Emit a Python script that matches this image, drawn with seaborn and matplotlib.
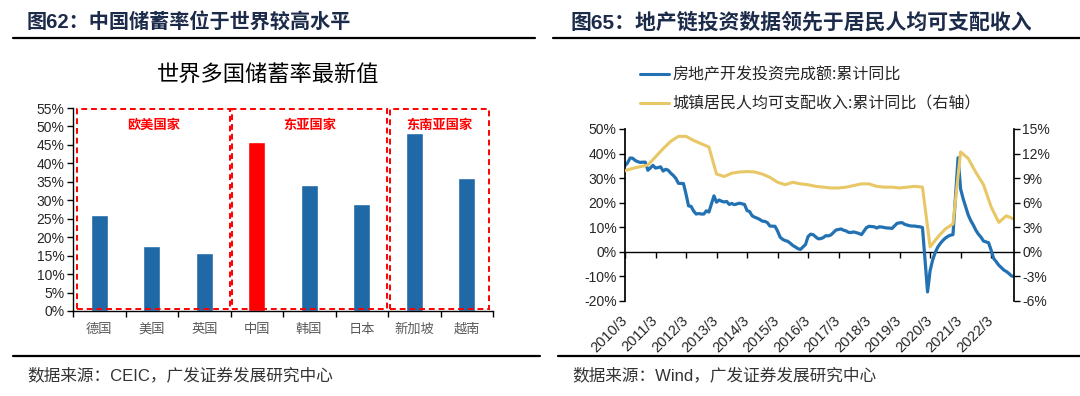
import numpy as np
import pandas as pd
import matplotlib
matplotlib.use('Agg')
import matplotlib.pyplot as plt
import seaborn as sns
from matplotlib.lines import Line2D
from matplotlib.patches import Rectangle
from matplotlib.ticker import FuncFormatter

##### data #####
countries = ['德国', '美国', '英国', '中国', '韩国', '日本', '新加坡', '越南']
saving_rate = [26.0, 17.7, 15.6, 45.8, 34.2, 28.9, 48.3, 36.1]
region = ['欧美国家', '欧美国家', '欧美国家', '东亚国家', '东亚国家', '东亚国家', '东南亚国家', '东南亚国家']

# 房地产开发投资完成额:累计同比 (monthly, Jan merged into Feb), from 2010/3
inv_yoy = [35.1, 36.2, 38.2, 38.1, 37.2, 36.7, 36.4, 36.5, 36.5, 33.2,
           35.2, 34.1, 34.3, 34.6, 32.9, 33.6, 33.2, 32.0, 31.1, 29.9, 27.9,
           27.8, 23.5, 18.7, 18.5, 16.6, 15.4, 15.6, 15.4, 15.4, 16.7, 16.2,
           22.8, 20.2, 21.1, 20.6, 20.3, 20.5, 19.3, 19.7, 19.2, 19.5, 19.8,
           19.3, 16.8, 16.4, 14.7, 14.1, 13.7, 13.2, 12.5, 12.4, 11.9, 10.5,
           10.4, 8.5, 6.0, 5.1, 4.6, 4.3, 3.5, 2.6, 2.0, 1.3, 1.0,
           3.0, 6.2, 7.2, 7.0, 6.1, 5.3, 5.4, 5.8, 6.6, 6.5, 6.9,
           8.9, 9.1, 9.3, 8.8, 8.5, 7.9, 7.9, 8.1, 7.8, 7.5, 7.0,
           9.9, 10.4, 10.3, 10.2, 9.7, 10.2, 10.1, 9.9, 9.7, 9.7, 9.5,
           11.6, 11.8, 11.9, 11.2, 10.9, 10.6, 10.5, 10.5, 10.3, 10.2, 9.9,
           -16.3, -7.7, -3.3, -0.3, 1.9, 3.4, 4.6, 5.6, 6.3, 6.8, 7.0,
           38.3, 25.6, 21.6, 18.3, 15.0, 12.7, 10.9, 8.8, 7.2, 6.0, 4.4,
           3.7, 0.7, -2.7, -4.0, -5.4, -6.4, -7.4, -8.0, -8.8, -9.8, -10.0]
inv_months = [(2010, m) for m in range(3, 13)] + [(y, m) for y in range(2011, 2023) for m in range(2, 13)]

# 城镇居民人均可支配收入:累计同比 (quarterly), from 2010/3
inc_yoy = [9.9, 10.2, 10.4, 10.6,
           11.6, 12.6, 13.5, 14.1,
           14.1, 13.6, 13.2, 12.8,
           9.5, 9.2, 9.6, 9.75,
           9.8, 9.75, 9.5, 9.1,
           8.5, 8.2, 8.5, 8.3,
           8.2, 8.0, 7.9, 7.8,
           7.8, 7.9, 8.1, 8.3,
           8.3, 8.0, 7.9, 7.9,
           7.8, 7.9, 8.0, 7.9,
           0.6, 1.8, 2.8, 3.4,
           12.2, 11.4, 9.7, 8.2,
           5.5, 3.6, 4.4, 4.0]
inc_months = [(y, m) for y in range(2010, 2023) for m in (3, 6, 9, 12)]

year_labels = [f'{y}/3' for y in range(2010, 2023)]

##### style #####
sns.set_theme(style='white')
plt.rcParams['font.family'] = ['Liberation Sans', 'Noto Sans CJK SC']
plt.rcParams['axes.unicode_minus'] = False

W, H = 1080, 396
fig = plt.figure(figsize=(W / 100, H / 100), dpi=100)


def fx(px):
    return px / W


def fy(py):
    return 1 - py / H


title_col = '#1c2b4a'
bar_blue = '#1f69a6'
line_blue = '#2271b3'
line_yellow = '#e8c766'
tick_col = '#262626'

##### left panel #####
fig.text(fx(27), fy(22), '图62：中国储蓄率位于世界较高水平', fontsize=14.5, weight='bold',
         color=title_col, va='center')
fig.add_artist(Line2D([fx(13), fx(535)], [fy(38), fy(38)], color='black', lw=1.6))
fig.text(fx(268), fy(75), '世界多国储蓄率最新值', fontsize=16, ha='center', va='center', color='black')

ax1 = fig.add_axes([fx(73), fy(311), fx(493) - fx(73), fy(108) - fy(311)])
df_bar = pd.DataFrame({'国家': countries, '储蓄率': saving_rate})
bar_cols = ['#ff0000' if c == '中国' else bar_blue for c in countries]
sns.barplot(data=df_bar, x='国家', y='储蓄率', hue='国家', palette=bar_cols, legend=False,
            width=0.32, ax=ax1, saturation=1)
ax1.set_xlim(-0.5, len(countries) - 0.5)
ax1.set_ylim(0, 55)
ax1.set_yticks(np.arange(0, 56, 5))
ax1.yaxis.set_major_formatter(FuncFormatter(lambda v, p: f'{v:.0f}%'))
ax1.set_xlabel('')
ax1.set_ylabel('')
for s in ['top', 'right']:
    ax1.spines[s].set_visible(False)
for s in ['left', 'bottom']:
    ax1.spines[s].set_color('black')
    ax1.spines[s].set_linewidth(1.0)
ax1.set_xticks(np.arange(-0.5, len(countries), 1.0), minor=True)
ax1.tick_params(axis='x', which='major', length=0, pad=9, labelsize=9.5, labelcolor='#595959')
ax1.tick_params(axis='x', which='minor', length=4, width=1, direction='out', color='black', bottom=True)
ax1.tick_params(axis='y', length=4, width=1, direction='out', color='black', left=True,
                labelsize=10, labelcolor=tick_col, pad=2)

# dashed region boxes
groups = list(dict.fromkeys(region))
for gi, g in enumerate(groups):
    idx = [i for i, r in enumerate(region) if r == g]
    x0 = idx[0] - 0.5 + (0.08 if gi == 0 else 0.03)
    x1 = idx[-1] + 0.5 - (0.08 if gi == len(groups) - 1 else 0.01)
    ax1.add_patch(Rectangle((x0, 0.5), x1 - x0, 54.3, fill=False, edgecolor='#ff0000',
                            lw=1.4, linestyle=(0, (3, 2)), zorder=3, clip_on=False))
    ax1.text((x0 + x1) / 2, 50.3, g, color='#ff0000', fontsize=9.5, weight='bold',
             ha='center', va='center')

fig.add_artist(Line2D([fx(13), fx(540)], [fy(356), fy(356)], color='black', lw=1.6))
fig.text(fx(27), fy(375), '数据来源：CEIC，广发证券发展研究中心', fontsize=12, color='#333333', va='center')

##### right panel #####
fig.text(fx(570), fy(22), '图65：地产链投资数据领先于居民人均可支配收入', fontsize=15, weight='bold',
         color=title_col, va='center')
fig.add_artist(Line2D([fx(553), fx(1080)], [fy(38), fy(38)], color='black', lw=1.6))

ax2 = fig.add_axes([fx(625), fy(301), fx(1014) - fx(625), fy(129) - fy(301)])
inv_df = pd.DataFrame({'t': [(y - 2010) * 12 + m - 3 for y, m in inv_months], 'yoy': inv_yoy})
inc_df = pd.DataFrame({'t': [(y - 2010) * 12 + m - 3 for y, m in inc_months], 'yoy': inc_yoy})

sns.lineplot(data=inv_df, x='t', y='yoy', ax=ax2, color=line_blue, lw=2.3)
ax3 = ax2.twinx()
sns.lineplot(data=inc_df, x='t', y='yoy', ax=ax3, color=line_yellow, lw=2.2)

t_end = inv_df['t'].max()
ax2.set_xlim(0, t_end)
ax2.set_ylim(-20, 50)
ax3.set_ylim(-6, 15)
ax2.set_yticks(np.arange(-20, 51, 10))
ax3.set_yticks(np.arange(-6, 16, 3))
pct = FuncFormatter(lambda v, p: f'{v:.0f}%')
ax2.yaxis.set_major_formatter(pct)
ax3.yaxis.set_major_formatter(pct)
for a in (ax2, ax3):
    a.set_xlabel('')
    a.set_ylabel('')
    for s in a.spines.values():
        s.set_visible(False)
ax2.spines['left'].set_visible(True)
ax2.spines['left'].set_color('black')
ax3.spines['right'].set_visible(True)
ax3.spines['right'].set_color('black')
ax2.tick_params(axis='y', length=4, width=1, direction='out', color='black', left=True,
                labelsize=10, labelcolor=tick_col, pad=2)
ax3.tick_params(axis='y', length=4, width=1, direction='out', color='black', right=True,
                labelsize=10, labelcolor=tick_col, pad=2)

year_ticks = np.arange(0, t_end + 1, 12)
ax2.set_xticks(year_ticks)
ax2.set_xticklabels(year_labels, rotation=45, ha='right', va='center', rotation_mode='anchor')
ax2.tick_params(axis='x', length=0, pad=12.5, labelsize=10.5, labelcolor=tick_col)

# zero line with year ticks
ylo, yhi = ax2.get_ylim()
zero = ax2.secondary_xaxis((0 - ylo) / (yhi - ylo))
zero.set_xticks(year_ticks)
zero.tick_params(axis='x', length=4, width=1, direction='out', color='black', labelbottom=False,
                 labeltop=False)
for s in zero.spines.values():
    s.set_color('black')
    s.set_linewidth(1.0)

handles = [Line2D([], [], color=line_blue, lw=2.2), Line2D([], [], color=line_yellow, lw=2.2)]
labels = ['房地产开发投资完成额:累计同比', '城镇居民人均可支配收入:累计同比（右轴）']
fig.legend(handles, labels, loc='upper left', bbox_to_anchor=(fx(626), fy(52)), frameon=False,
           handlelength=1.8, handletextpad=0.2, labelspacing=0.75,
           prop={'family': ['Noto Sans CJK SC'], 'size': 11.5})

fig.add_artist(Line2D([fx(558), fx(1080)], [fy(356), fy(356)], color='black', lw=1.6))
fig.text(fx(572), fy(375), '数据来源：Wind，广发证券发展研究中心', fontsize=12, color='#333333', va='center')

fig.savefig('out.png', dpi=100)
